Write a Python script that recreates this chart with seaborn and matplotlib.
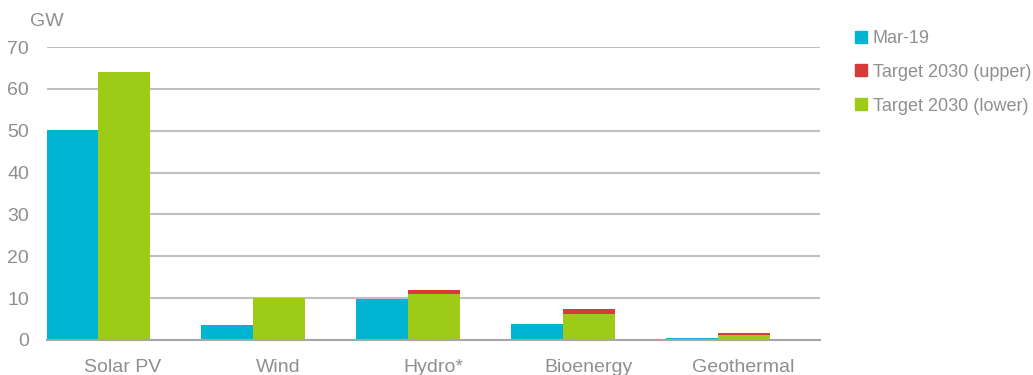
import pandas as pd
import matplotlib.pyplot as plt
import matplotlib.transforms as mtransforms
from matplotlib.lines import Line2D
import seaborn as sns

# Data (GW)
categories = ["Solar PV", "Wind", "Hydro*", "Bioenergy", "Geothermal"]
mar19 = [50.2, 3.7, 9.7, 3.9, 0.5]
target_lower = [64.0, 10.0, 11.0, 6.1, 1.2]
target_upper = [64.0, 10.0, 11.9, 7.4, 1.6]

CYAN = "#00B4D2"
RED = "#D73B38"
GREEN = "#9DCB18"
TEXT = "#8F8F8F"
GRID = "#BFBFBF"

sns.set_style("white")
plt.rcParams["font.family"] = ["Liberation Sans", "DejaVu Sans"]

# two long tables: totals (red shows through on top), then lower part in green
upper_df = pd.DataFrame({
    "cat": categories * 2,
    "series": ["Mar-19"] * 5 + ["Target"] * 5,
    "gw": mar19 + target_upper,
})
lower_df = pd.DataFrame({
    "cat": categories * 2,
    "series": ["Mar-19"] * 5 + ["Target"] * 5,
    "gw": mar19 + target_lower,
})

fig = plt.figure(figsize=(10.33, 3.75), dpi=100)
ax = fig.add_axes([47 / 1033, 35 / 375, 773 / 1033, 293 / 375])

sns.barplot(data=upper_df, x="cat", y="gw", hue="series", palette=[CYAN, RED],
            width=0.665, gap=0, linewidth=0, saturation=1, legend=False,
            ax=ax, errorbar=None)
sns.barplot(data=lower_df, x="cat", y="gw", hue="series", palette=[CYAN, GREEN],
            width=0.665, gap=0, linewidth=0, saturation=1, legend=False,
            ax=ax, errorbar=None)

ax.set_xlim(-0.329, 4.658)
ax.set_ylim(0, 70)
ax.set_yticks(range(0, 71, 10))
ax.yaxis.grid(True, color=GRID, linewidth=1.5)
ax.set_axisbelow(True)
ax.set_xlabel("")
ax.set_ylabel("")

for s in ["top", "right", "left"]:
    ax.spines[s].set_visible(False)
ax.spines["bottom"].set_color("#A6A6A6")
ax.spines["bottom"].set_linewidth(1.5)

ax.tick_params(axis="both", length=0, colors=TEXT, labelsize=14)
ax.tick_params(axis="y", pad=13)
ax.tick_params(axis="x", pad=14)

# category labels sit a little right of their bar pair
offset = mtransforms.ScaledTranslation(0.25, 0, fig.dpi_scale_trans)
for lab in ax.get_xticklabels():
    lab.set_transform(lab.get_transform() + offset)

fig.text(30 / 1033, 1 - 22 / 375, "GW", color=TEXT, fontsize=14, va="center", ha="left")

handles = [Line2D([], [], marker="s", linestyle="", markersize=8, color=c)
           for c in [CYAN, RED, GREEN]]
fig.legend(handles, ["Mar-19", "Target 2030 (upper)", "Target 2030 (lower)"],
           loc="upper left", bbox_to_anchor=(852 / 1033, 1 - 30 / 375),
           frameon=False, fontsize=13, labelcolor=TEXT, handletextpad=0.15,
           handlelength=1.0, labelspacing=0.93, borderaxespad=0, borderpad=0)

plt.savefig("out.png", dpi=100)
